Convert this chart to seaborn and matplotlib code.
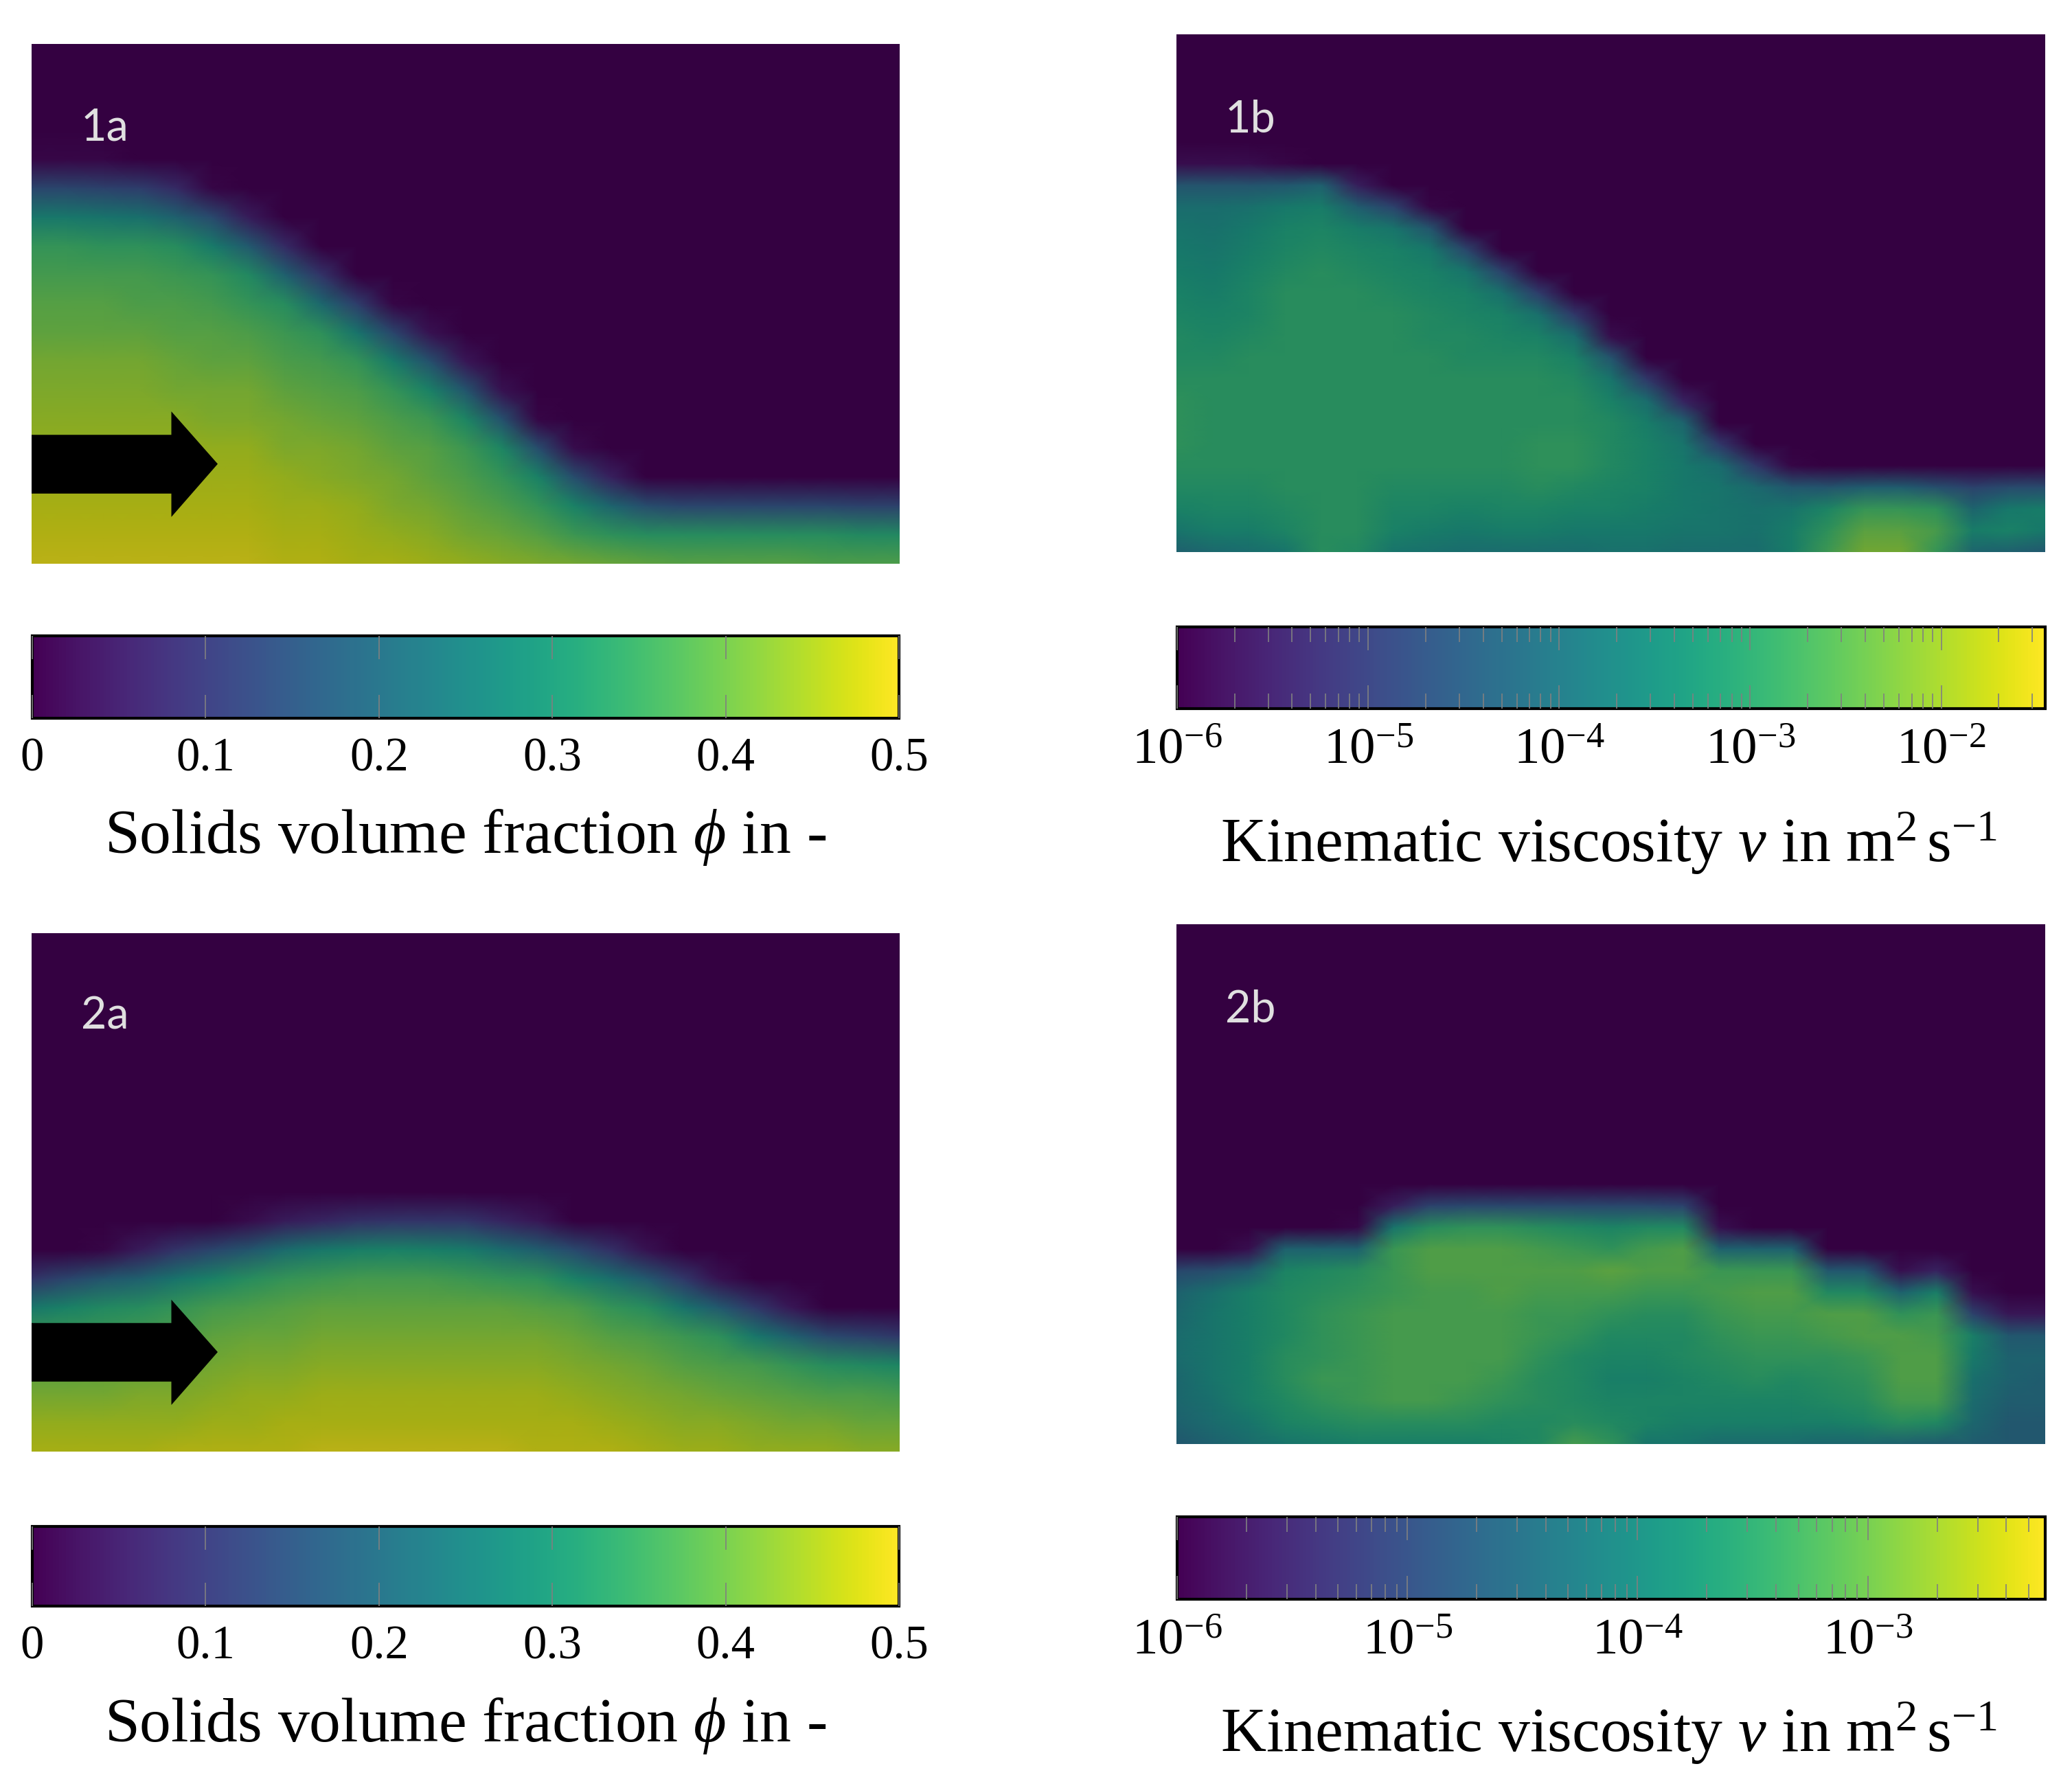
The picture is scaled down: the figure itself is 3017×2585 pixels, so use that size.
import numpy as np
import seaborn as sns
import matplotlib.pyplot as plt
from matplotlib.cm import ScalarMappable
from matplotlib.colors import ListedColormap, LogNorm, Normalize
from matplotlib.patches import Polygon
from matplotlib.ticker import LogLocator

# solids fraction in hundredths, one list per column (left to right),
# each list runs down to the floor; rows above it are clear fluid
phi_1a = [
    [1, 14, 27, 35, 37, 39, 40, 42, 43, 44, 45, 46, 47, 48, 49],
    [1, 14, 27, 35, 37, 39, 40, 42, 43, 44, 45, 46, 47, 48, 49],
    [1, 13, 26, 34, 37, 39, 40, 42, 43, 44, 45, 46, 47, 48, 49],
    [12, 25, 34, 37, 38, 40, 42, 43, 44, 45, 46, 47, 48, 49],
    [8, 21, 33, 36, 38, 39, 41, 42, 44, 45, 46, 47, 48, 49],
    [1, 15, 28, 35, 37, 39, 40, 42, 43, 45, 46, 47, 48, 49],
    [5, 19, 32, 35, 38, 40, 42, 43, 45, 46, 47, 48, 49],
    [8, 21, 33, 36, 38, 40, 42, 43, 45, 46, 47, 48],
    [10, 23, 34, 37, 39, 41, 43, 44, 46, 47, 48],
    [12, 26, 35, 38, 40, 42, 43, 45, 46, 47],
    [1, 14, 28, 35, 38, 40, 42, 43, 45, 47],
    [3, 17, 30, 36, 39, 40, 42, 44, 46],
    [4, 18, 31, 36, 38, 40, 42, 45],
    [3, 17, 31, 35, 38, 41, 44],
    [1, 16, 30, 35, 39, 43],
    [2, 16, 30, 36, 42],
    [6, 22, 34, 41],
    [16, 33, 40],
    [14, 33, 39],
    [14, 33, 39],
    [14, 33, 39],
    [14, 33, 39],
    [14, 33, 38],
    [13, 32, 38],
    [13, 32, 38],
]

phi_2a = [
    [10, 27, 36, 39, 42, 45, 47],
    [14, 30, 36, 39, 42, 45, 47],
    [1, 18, 32, 36, 40, 42, 45, 47],
    [5, 21, 33, 37, 40, 43, 45, 47],
    [10, 26, 35, 38, 41, 43, 45, 48],
    [14, 30, 37, 40, 42, 44, 46, 48],
    [2, 18, 33, 38, 41, 43, 45, 46, 48],
    [5, 24, 35, 39, 41, 43, 45, 47, 48],
    [7, 27, 36, 40, 42, 44, 46, 47, 49],
    [9, 29, 37, 40, 42, 44, 46, 47, 49],
    [10, 30, 37, 40, 42, 44, 46, 47, 49],
    [10, 29, 37, 40, 42, 44, 46, 47, 49],
    [10, 28, 36, 40, 42, 44, 46, 47, 49],
    [7, 24, 35, 40, 42, 44, 46, 47, 49],
    [4, 20, 34, 39, 42, 44, 46, 47, 48],
    [15, 30, 38, 41, 43, 45, 47, 48],
    [9, 25, 35, 39, 42, 44, 46, 48],
    [3, 19, 33, 38, 41, 43, 45, 47],
    [11, 26, 36, 39, 42, 44, 46],
    [3, 19, 34, 38, 41, 44, 46],
    [11, 27, 37, 40, 43, 45],
    [4, 21, 35, 39, 42, 45],
    [15, 33, 38, 42, 45],
    [13, 32, 38, 41, 44],
    [11, 31, 37, 41, 44],
]

# log10 of the viscosity times ten, same layout
nu_1b = [
    [-58, -44, -38, -36, -35, -34, -33, -32, -31, -31, -30, -29, -29, -29, -30, -31, -33, -36, -41],
    [-58, -44, -38, -37, -36, -35, -34, -33, -32, -31, -30, -30, -30, -30, -30, -31, -32, -34, -39],
    [-58, -44, -37, -35, -34, -33, -32, -32, -31, -30, -30, -30, -30, -30, -30, -31, -32, -34, -38],
    [-59, -43, -35, -33, -32, -31, -30, -30, -30, -30, -30, -30, -30, -30, -30, -30, -31, -32, -36],
    [-41, -34, -32, -31, -30, -30, -30, -30, -30, -30, -30, -30, -30, -30, -30, -30, -30, -30],
    [-55, -42, -34, -32, -31, -30, -30, -30, -30, -30, -30, -30, -30, -30, -30, -30, -30, -31],
    [-48, -36, -33, -32, -31, -30, -30, -30, -30, -30, -30, -30, -30, -31, -32, -33, -36],
    [-59, -44, -35, -33, -32, -31, -31, -30, -30, -30, -30, -30, -30, -31, -32, -34, -37],
    [-47, -36, -33, -32, -31, -31, -30, -30, -30, -30, -30, -31, -33, -35, -38],
    [-48, -37, -33, -32, -31, -30, -30, -30, -30, -30, -31, -32, -34, -38],
    [-49, -37, -33, -31, -30, -30, -30, -29, -29, -30, -32, -34, -38],
    [-50, -38, -33, -31, -30, -30, -29, -29, -31, -33, -35, -38],
    [-58, -44, -36, -33, -31, -31, -31, -32, -33, -35, -37],
    [-50, -38, -34, -33, -33, -33, -34, -35, -37],
    [-54, -40, -36, -35, -35, -35, -36, -38],
    [-50, -38, -36, -36, -36, -38],
    [-50, -39, -37, -37, -38],
    [-59, -43, -36, -34, -34],
    [-44, -32, -29, -27],
    [-42, -28, -24, -22],
    [-42, -28, -24, -22],
    [-45, -29, -26, -28],
    [-48, -40, -34, -40],
    [-46, -35, -33, -41],
    [-46, -34, -35, -43],
]

nu_2b = [
    [-49, -44, -43, -42, -42, -43, -43, -44, -46],
    [-48, -41, -40, -40, -40, -40, -41, -42, -44],
    [-58, -45, -38, -38, -38, -38, -38, -38, -40, -42],
    [-44, -37, -36, -36, -36, -35, -35, -36, -37, -40],
    [-44, -36, -35, -34, -34, -34, -33, -34, -36, -39],
    [-59, -44, -35, -34, -33, -33, -33, -33, -33, -35, -38],
    [-56, -40, -33, -33, -33, -32, -32, -32, -32, -32, -35, -38],
    [-50, -35, -31, -31, -32, -32, -32, -32, -32, -32, -35, -38],
    [-49, -34, -31, -31, -32, -32, -32, -32, -32, -33, -35, -38],
    [-49, -34, -31, -31, -31, -32, -32, -32, -33, -34, -36, -37],
    [-49, -35, -32, -31, -32, -33, -33, -34, -35, -35, -36, -36],
    [-49, -36, -33, -31, -32, -33, -34, -36, -36, -36, -35, -32],
    [-49, -37, -34, -30, -32, -34, -36, -37, -38, -37, -36, -34],
    [-49, -36, -32, -31, -33, -35, -36, -37, -38, -37, -37, -40],
    [-50, -36, -31, -31, -33, -35, -36, -36, -37, -37, -38, -40],
    [-58, -44, -33, -32, -33, -34, -35, -36, -37, -38, -42],
    [-44, -33, -31, -32, -33, -34, -35, -37, -38, -42],
    [-44, -33, -31, -32, -33, -34, -36, -37, -38, -42],
    [-46, -36, -31, -32, -34, -35, -36, -38, -43],
    [-46, -36, -31, -31, -33, -34, -35, -37, -43],
    [-58, -44, -34, -31, -31, -31, -32, -35, -44],
    [-55, -38, -33, -32, -31, -31, -32, -36, -45],
    [-58, -50, -38, -39, -41, -42, -43, -45],
    [-57, -46, -44, -44, -45, -46, -46],
    [-57, -46, -44, -45, -45, -46, -46],
]

phi_ticks = [0, 0.1, 0.2, 0.3, 0.4, 0.5]
phi_tick_labels = ['0', '0.1', '0.2', '0.3', '0.4', '0.5']
nu_min = 1e-6
nu_max_1b = 3.5e-2
nu_max_2b = 5.9e-3

W, H = 3017, 2586

sns.set_theme(style='white')
plt.rcParams['font.family'] = 'Liberation Serif'
plt.rcParams['mathtext.fontset'] = 'custom'
plt.rcParams['mathtext.rm'] = 'Liberation Serif'
plt.rcParams['mathtext.it'] = 'Liberation Serif:italic'
plt.rcParams['mathtext.default'] = 'rm'

viridis = sns.color_palette('viridis', as_cmap=True)
# the fields come out darker than their colour bars
shaded = viridis(np.arange(256))
shaded[:, :3] *= 0.77
shaded_cmap = ListedColormap(shaded)


def to_grid(cols, nrows, fill):
    return np.array([[fill] * (nrows - len(c)) + c for c in cols], dtype=float).T


def px_axes(fig, left, top, right, bottom):
    return fig.add_axes([left / W, 1 - bottom / H, (right - left) / W, (bottom - top) / H])


def field(fig, box, grid, norm, tag, tag_x, tag_y, arrow=False):
    ax = px_axes(fig, *box)
    sns.heatmap(grid, ax=ax, cmap=shaded_cmap, norm=norm, cbar=False,
                shading='gouraud', xticklabels=False, yticklabels=False)
    ax.set_xlim(0, grid.shape[1] - 1)
    ax.set_ylim(grid.shape[0] - 1, 0)
    ax.text(tag_x, tag_y, tag, transform=ax.transAxes, color='#e0e0e0',
            family='Lato', fontsize=15.5, va='baseline')
    if arrow:
        pts = [(0, 0.248), (0.161, 0.248), (0.161, 0.293), (0.2144, 0.192),
               (0.161, 0.09), (0.161, 0.135), (0, 0.135)]
        ax.add_patch(Polygon(pts, closed=True, transform=ax.transAxes,
                             facecolor='black', edgecolor='none', zorder=5))
    return ax


def bar(fig, box, norm, label, label_x, label_y):
    cax = px_axes(fig, *box)
    cb = fig.colorbar(ScalarMappable(norm=norm, cmap=viridis), cax=cax, orientation='horizontal')
    cb.outline.set_linewidth(1.0)
    cb.outline.set_edgecolor('black')
    cax.set_axisbelow(False)
    size = 16.5
    if isinstance(norm, LogNorm):
        size = 18
        cax.xaxis.set_major_locator(LogLocator(base=10, numticks=12))
        cax.xaxis.set_minor_locator(LogLocator(base=10, subs=range(2, 10), numticks=12))
        cax.tick_params(axis='x', which='minor', length=5.3, width=0.4, color='gray',
                        direction='in', top=True, bottom=True)
    else:
        cb.set_ticks(phi_ticks)
        cb.set_ticklabels(phi_tick_labels)
    cax.tick_params(axis='x', which='major', length=8.2, width=0.4, color='gray', direction='in',
                    top=True, bottom=True, labelsize=size, pad=6.5, labelcolor='black')
    fig.text(label_x / W, 1 - label_y / H, label, ha='center', va='baseline',
             fontsize=22, color='black')


fig = plt.figure(figsize=(W / 300, H / 300), dpi=300, facecolor='white')

phi_norm = Normalize(0, 0.5)
phi_label = r'Solids volume fraction $\mathit{\phi}$ in -'
nu_label = r'Kinematic viscosity $\mathit{\nu}$ in m$^{2}\,$s$^{-1}$'

field(fig, (46, 65, 1310, 822), to_grid(phi_1a, 19, 0) / 100, phi_norm, '1a', 0.057, 0.816, arrow=True)
field(fig, (46, 1360, 1310, 2115), to_grid(phi_2a, 19, 0) / 100, phi_norm, '2a', 0.057, 0.816, arrow=True)
field(fig, (1713, 51, 2978, 805), 10 ** (to_grid(nu_1b, 25, -60) / 10),
      LogNorm(nu_min, nu_max_1b), '1b', 0.056, 0.812)
field(fig, (1713, 1347, 2978, 2104), 10 ** (to_grid(nu_2b, 25, -60) / 10),
      LogNorm(nu_min, nu_max_2b), '2b', 0.056, 0.812)

bar(fig, (47, 927, 1309, 1047), phi_norm, phi_label, 678, 1242)
bar(fig, (47, 2224, 1309, 2340), phi_norm, phi_label, 678, 2536)
bar(fig, (1714, 914, 2978, 1033), LogNorm(nu_min, nu_max_1b), nu_label, 2342, 1255)
bar(fig, (1714, 2210, 2978, 2330), LogNorm(nu_min, nu_max_2b), nu_label, 2342, 2551)

fig.savefig('out.png', dpi=300)
